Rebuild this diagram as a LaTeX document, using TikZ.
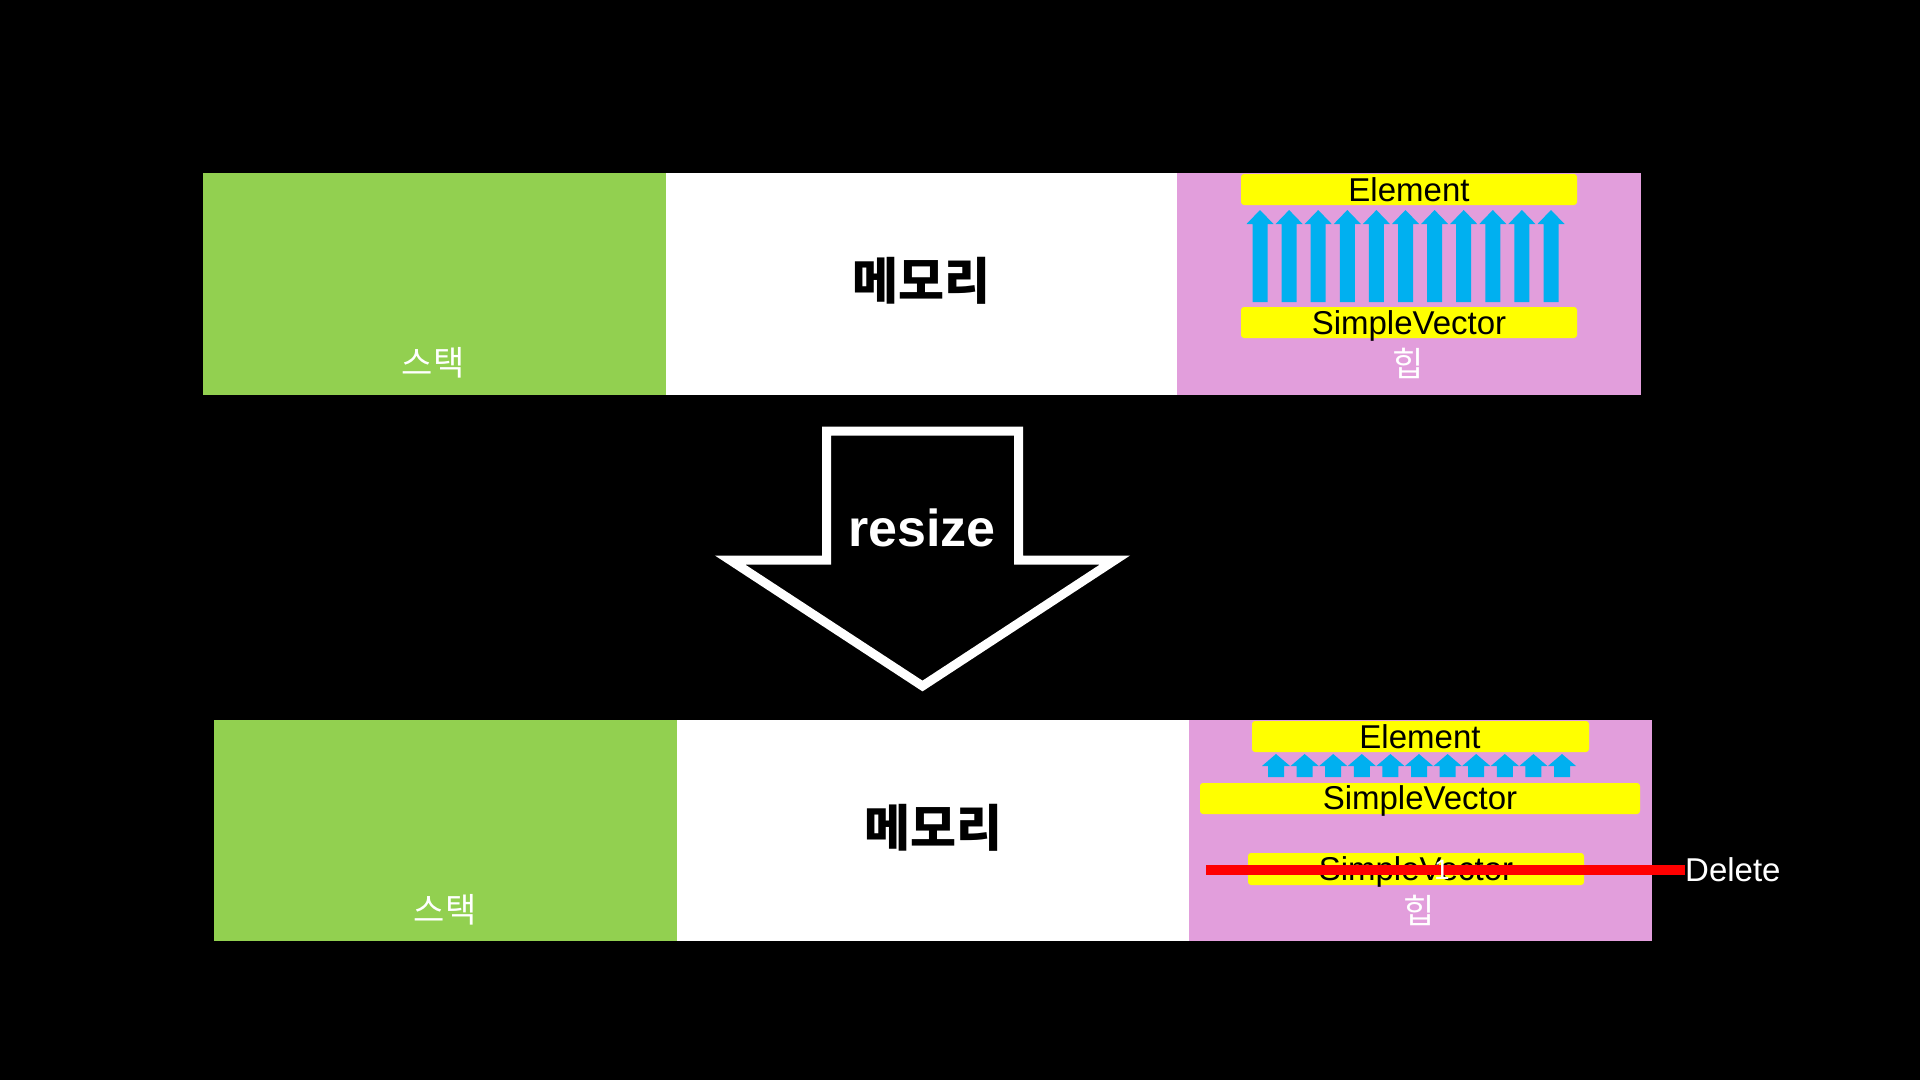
\documentclass[tikz,border=0pt]{standalone}
\usepackage{fontspec}
\setmainfont{Liberation Sans}
\newfontfamily\krfont{Noto Sans CJK KR}
\definecolor{stackgreen}{HTML}{92D050}
\definecolor{heappink}{HTML}{E29EDC}
\definecolor{vecyellow}{HTML}{FFFF00}
\definecolor{growblue}{HTML}{00B0F0}
\definecolor{delred}{HTML}{FF0000}

\tikzset{
  lbl/.style={font=\fontsize{33}{36}\selectfont, text=black, inner sep=0pt},
  krlbl/.style={font=\krfont\fontsize{34}{38}\selectfont, text=white, inner sep=0pt},
  memlbl/.style={font=\krfont\bfseries\fontsize{50}{54}\selectfont, text=black, inner sep=0pt},
  vecbox/.style={fill=vecyellow, rounded corners=3},
}

\begin{document}
\begin{tikzpicture}[x=1pt,y=-1pt]
\fill[black] (0,0) rectangle (1920,1080);
\useasboundingbox (0,0) rectangle (1920,1080);

% before resize
\fill[stackgreen] (203,173) rectangle (666,395);
\fill[white] (666,173) rectangle (1177,395);
\fill[heappink] (1177,173) rectangle (1641,395);
\node[krlbl] (stack1) at (433,363) {스택};
\node[memlbl] (mem1) at (921,281) {메모리};
\node[krlbl] (heap1) at (1408,363) {힙};
\fill[vecbox] (1241,174) rectangle (1577,205);
\node[lbl] (elem1) at (1409,190) {Element};
\fill[vecbox] (1241,307) rectangle (1577,338);
\node[lbl] (vec1) at (1409,326) {SimpleVector};
\foreach \i in {0,...,10}
  \fill[growblue] ({1260+29.1*\i},210) -- ++(13.5,14) -- ++(-6,0) -- ++(0,78)
    -- ++(-15,0) -- ++(0,-78) -- ++(-6,0) -- cycle;

% resize arrow
\draw[white, line width=9pt, miter limit=20]
  (826.5,431) -- (1018.5,431) -- (1018.5,560) -- (1115,560)
  -- (922.5,686) -- (730,560) -- (826.5,560) -- cycle;
\node[font=\bfseries\fontsize{52}{56}\selectfont, text=white, anchor=base, inner sep=0pt]
  (resize) at (922,546) {resize};

% after resize
\fill[stackgreen] (214,720) rectangle (677,941);
\fill[white] (677,720) rectangle (1189,941);
\fill[heappink] (1189,720) rectangle (1652,941);
\node[krlbl] (stack2) at (445,910) {스택};
\node[memlbl] (mem2) at (933,828) {메모리};
\node[krlbl] (heap2) at (1419,910) {힙};
\fill[vecbox] (1252,721) rectangle (1589,752);
\node[lbl] (elem2) at (1420,737) {Element};
\foreach \i in {0,...,10}
  \fill[growblue] ({1276+28.6*\i},754) -- ++(14,12) -- ++(-6,0) -- ++(0,11)
    -- ++(-16,0) -- ++(0,-11) -- ++(-6,0) -- cycle;
\fill[vecbox] (1200,783) rectangle (1640,814);
\node[lbl] (vec2) at (1420,801) {SimpleVector};
\fill[vecbox] (1248,853) rectangle (1584,885);
\node[lbl] (oldvec) at (1416,872) {SimpleVector};

\node[lbl, text=white, anchor=west] (delete) at (1685,870) {Delete};
\coordinate (strikestart) at (1206,870);
\draw[delred, line width=10pt] (strikestart) -- (delete.west);
\node[font=\fontsize{28}{30}\selectfont, text=white, inner sep=0pt] (one) at (1442,870) {1};
\end{tikzpicture}
\end{document}
